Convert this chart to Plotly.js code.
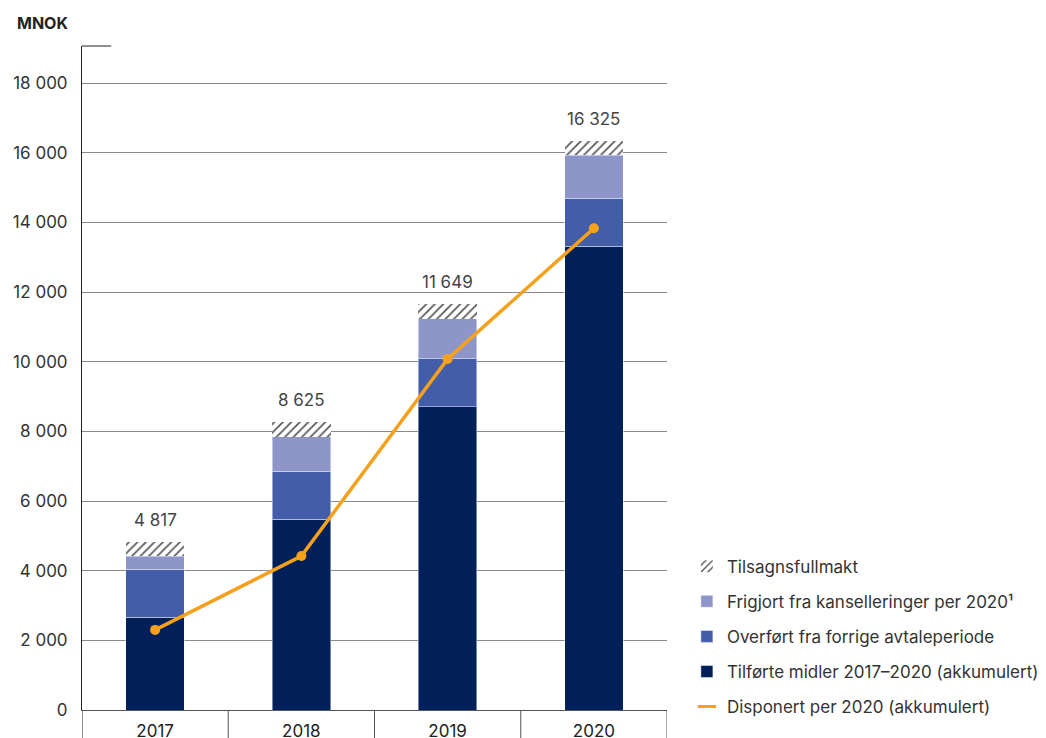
<!DOCTYPE html>
<html>
<head>
<meta charset="utf-8">
<script src="https://cdn.plot.ly/plotly-3.0.1.min.js"></script>
<style>
  html, body { margin: 0; padding: 0; background: #ffffff; }
  #chart { width: 1046px; height: 738px; }
</style>
</head>
<body>
<div id="chart"></div>
<script>
// ---- Data (MNOK) ----
const years = ["2017", "2018", "2019", "2020"];
const tilforte = [2670, 5480, 8700, 13320];          // Tilførte midler 2017–2020 (akkumulert)
const overfort = [1378, 1378, 1378, 1378];            // Overført fra forrige avtaleperiode
const frigjort = [373, 985, 1155, 1235];              // Frigjort fra kanselleringer per 2020¹
const tilsagn  = [396, 420, 416, 392];                // Tilsagnsfullmakt
const disponert = [2300, 4420, 10080, 13830];         // Disponert per 2020 (akkumulert)
const totalLabels = ["4 817", "8 625", "11 649", "16 325"];
const yTicks = [0, 2000, 4000, 6000, 8000, 10000, 12000, 14000, 16000, 18000];

const names = {
  tilsagn: "Tilsagnsfullmakt",
  frigjort: "Frigjort fra kanselleringer per 2020¹",
  overfort: "Overført fra forrige avtaleperiode",
  tilforte: "Tilførte midler 2017–2020 (akkumulert)",
  disponert: "Disponert per 2020 (akkumulert)"
};

const FONT = "Inter, 'Noto Sans', sans-serif";
const TXT = "#333333";
const barLine = { color: "rgba(255,255,255,0.45)", width: 1 };

const traces = [
  { type: "bar", x: years, y: tilforte, name: names.tilforte, legendgroup: "d", legendrank: 4,
    marker: { color: "#01205A", line: barLine }, hoverinfo: "y+name" },
  { type: "bar", x: years, y: overfort, name: names.overfort, legendgroup: "c", legendrank: 3,
    marker: { color: "#435DA9", line: barLine }, hoverinfo: "y+name" },
  { type: "bar", x: years, y: frigjort, name: names.frigjort, legendgroup: "b", legendrank: 2,
    marker: { color: "#8E95C9", line: barLine }, hoverinfo: "y+name" },
  { type: "bar", x: years, y: tilsagn, name: names.tilsagn, legendgroup: "a", legendrank: 1,
    marker: { color: "#ffffff", line: { width: 0 },
      pattern: { shape: "/", fgcolor: "#5a5a5a", bgcolor: "#ffffff", size: 6, solidity: 0.3 } },
    hoverinfo: "y+name" },
  { type: "scatter", mode: "lines+markers", x: years, y: disponert, name: names.disponert,
    showlegend: false, line: { color: "#F6A11C", width: 3.5 },
    marker: { color: "#F6A11C", size: 10 } },
  { type: "scatter", mode: "markers", x: [years[0]], y: [null], name: names.disponert,
    legendgroup: "e", legendrank: 5, showlegend: true, hoverinfo: "skip",
    marker: { symbol: "line-ew", size: 13, color: "#F6A11C", line: { color: "#F6A11C", width: 3 } } }
];

// totals for label placement (category index used for x)
const totals = years.map((_, i) => tilforte[i] + overfort[i] + frigjort[i] + tilsagn[i]);
const annotations = years.map((yr, i) => ({
  x: i, y: totals[i], xref: "x", yref: "y", text: totalLabels[i], showarrow: false,
  yanchor: "bottom", yshift: 10, font: { family: FONT, size: 17, color: "#444444" }
}));
annotations.push({
  xref: "paper", yref: "paper", x: -0.1145, y: 1.035, xanchor: "left", yanchor: "middle",
  text: "<b>MNOK</b>", showarrow: false, font: { family: FONT, size: 16, color: "#222222" }
});

const shapes = [];
// category separators below the axis
[-0.5, 0.5, 1.5, 2.5, 3.5].forEach(b => {
  shapes.push({ type: "line", xref: "x", yref: "paper", x0: b, x1: b, y0: 0, y1: -0.06,
    line: { color: (b === -0.5 ? "#222222" : "#555555"), width: 1 } });
});
// small top cap on y axis
shapes.push({ type: "line", xref: "paper", yref: "paper", x0: 0, x1: 0.05, y0: 1, y1: 1,
  line: { color: "#222222", width: 1 } });

const layout = {
  width: 1046, height: 738,
  margin: { l: 82, r: 379, t: 46, b: 28, autoexpand: false },
  paper_bgcolor: "#ffffff", plot_bgcolor: "#ffffff",
  font: { family: FONT, size: 17, color: TXT },
  separators: ", ",
  barmode: "stack", bargap: 0.6,
  showlegend: true,
  legend: {
    x: 1.034, xanchor: "left", y: 0.243, yanchor: "top",
    traceorder: "grouped", tracegroupgap: 10,
    font: { family: FONT, size: 17, color: TXT },
    bgcolor: "rgba(0,0,0,0)"
  },
  xaxis: {
    type: "category", range: [-0.5, 3.5],
    showgrid: false, showline: true, linecolor: "#555555", linewidth: 1,
    ticks: "", ticklabelstandoff: 6,
    tickfont: { family: FONT, size: 17, color: "#222222" },
    zeroline: false, fixedrange: true
  },
  yaxis: {
    range: [0, 19063], tickvals: yTicks, tickformat: ",d",
    showgrid: true, gridcolor: "#8a8a8a", gridwidth: 1,
    showline: true, linecolor: "#222222", linewidth: 1,
    zeroline: false, ticks: "", ticklabelstandoff: 10,
    tickfont: { family: FONT, size: 17, color: TXT }, fixedrange: true
  },
  annotations: annotations,
  shapes: shapes
};

Plotly.newPlot("chart", traces, layout, { displayModeBar: false, staticPlot: true });
</script>
</body>
</html>
